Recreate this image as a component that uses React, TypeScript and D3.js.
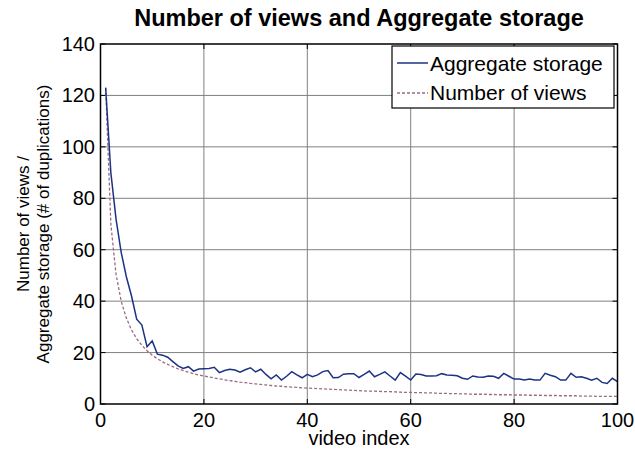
import React from "react";
import * as d3 from "d3";

const W = 635;
const H = 454;

const xTicks = [0, 20, 40, 60, 80, 100];
const yTicks = [0, 20, 40, 60, 80, 100, 120, 140];

// Aggregate storage per video (# of duplications), video index 1..100
const aggregateStorage = [
  123, 90, 72, 59, 49.5, 42, 33, 30.7, 22.3, 24.5,
  19.4, 19, 18.2, 16.5, 14.8, 13.8, 14.5, 12.8, 13.6, 13.7,
  13.8, 14.3, 12.2, 13.0, 13.5, 13.2, 12.4, 13.3, 14.1, 12.5,
  13.5, 11.5, 9.8, 11.3, 9.3, 10.8, 12.6, 11.3, 10.2, 11.5,
  10.6, 11.3, 12.6, 13.0, 10.2, 10.3, 11.6, 11.8, 11.8, 10.3,
  11.5, 12.8, 10.6, 11.5, 12.5, 10.9, 9.3, 12.2, 10.8, 9.3,
  11.7, 11.5, 10.9, 10.9, 11.0, 11.8, 11.3, 11.2, 11.0, 10.0,
  9.6, 10.9, 10.5, 10.4, 10.9, 10.8, 10.0, 11.9, 10.8, 9.7,
  9.7, 9.3, 9.7, 9.3, 9.3, 11.9, 11.2, 10.6, 9.3, 9.3,
  11.9, 10.4, 10.6, 10.0, 9.3, 10.0, 8.4, 8.0, 10.0, 8.7,
];

// Number of views per video, video index 1..100
const numberOfViews = [
  123, 70, 50.5, 40, 33.4, 28.8, 25.4, 22.8, 20.7, 19.0,
  17.6, 16.4, 15.4, 14.5, 13.7, 13.0, 12.4, 11.8, 11.3, 10.9,
  10.5, 10.1, 9.8, 9.4, 9.1, 8.8, 8.5, 8.3, 8.0, 7.8,
  7.6, 7.4, 7.2, 7.0, 6.9, 6.7, 6.6, 6.5, 6.3, 6.2,
  6.1, 6.0, 5.9, 5.8, 5.7, 5.6, 5.5, 5.4, 5.3, 5.2,
  5.1, 5.0, 5.0, 4.9, 4.8, 4.8, 4.7, 4.6, 4.5, 4.5,
  4.4, 4.4, 4.3, 4.3, 4.2, 4.1, 4.1, 4.0, 4.0, 3.9,
  3.9, 3.8, 3.8, 3.8, 3.7, 3.7, 3.6, 3.6, 3.6, 3.5,
  3.5, 3.5, 3.4, 3.4, 3.4, 3.3, 3.3, 3.3, 3.2, 3.2,
  3.2, 3.2, 3.1, 3.1, 3.1, 3.0, 3.0, 3.0, 3.0, 2.95,
];

const seriesNames = ["Aggregate storage", "Number of views"];

const FONT = "'Liberation Sans', Arial, sans-serif";
const STORAGE_COLOR = "#1c3384";
const VIEWS_COLOR = "#9a6a88";

export default function App() {
  const left = 100.5;
  const right = 617.5;
  const top = 44;
  const bottom = 404;

  const x = d3.scaleLinear().domain([0, 100]).range([left, right]);
  const y = d3.scaleLinear().domain([0, 140]).range([bottom, top]);

  const line = d3
    .line<number>()
    .x((_, i) => x(i + 1))
    .y((d) => y(d));

  const tickLen = 5;

  return (
    <svg
      width={W}
      height={H}
      style={{ position: "absolute", left: 0, top: 0, background: "#fff" }}
      fontFamily={FONT}
    >
      <rect x={0} y={0} width={W} height={H} fill="#fff" />

      {/* grid */}
      {xTicks.slice(1, -1).map((t) => (
        <line key={"gx" + t} x1={x(t)} x2={x(t)} y1={top} y2={bottom} stroke="#808080" strokeWidth={1} />
      ))}
      {yTicks.slice(1, -1).map((t) => (
        <line key={"gy" + t} x1={left} x2={right} y1={y(t)} y2={y(t)} stroke="#808080" strokeWidth={1} />
      ))}

      {/* inward ticks on all four sides */}
      {xTicks.map((t) => (
        <g key={"tx" + t}>
          <line x1={x(t)} x2={x(t)} y1={bottom} y2={bottom - tickLen} stroke="#000" />
          <line x1={x(t)} x2={x(t)} y1={top} y2={top + tickLen} stroke="#000" />
        </g>
      ))}
      {yTicks.map((t) => (
        <g key={"ty" + t}>
          <line x1={left} x2={left + tickLen} y1={y(t)} y2={y(t)} stroke="#000" />
          <line x1={right} x2={right - tickLen} y1={y(t)} y2={y(t)} stroke="#000" />
        </g>
      ))}

      {/* series */}
      <path d={line(numberOfViews) || ""} fill="none" stroke={VIEWS_COLOR} strokeWidth={1.3} strokeDasharray="3,2" />
      <path d={line(aggregateStorage) || ""} fill="none" stroke={STORAGE_COLOR} strokeWidth={1.5} />

      {/* axes box */}
      <rect x={left} y={top} width={right - left} height={bottom - top} fill="none" stroke="#000" strokeWidth={1.5} />

      {/* tick labels */}
      {xTicks.map((t) => (
        <text key={"lx" + t} x={x(t)} y={427} textAnchor="middle" fontSize={20} fill="#000">
          {t}
        </text>
      ))}
      {yTicks.map((t) => (
        <text key={"ly" + t} x={95} y={y(t) + 7} textAnchor="end" fontSize={20} fill="#000">
          {t}
        </text>
      ))}

      {/* title and axis labels */}
      <text x={(left + right) / 2} y={26} textAnchor="middle" fontSize={23.5} fontWeight="bold" fill="#000">
        Number of views and Aggregate storage
      </text>
      <text x={(left + right) / 2} y={445} textAnchor="middle" fontSize={20} fill="#000">
        video index
      </text>
      <g transform={`translate(29,${(top + bottom) / 2}) rotate(-90)`}>
        <text x={0} y={0} textAnchor="middle" fontSize={17} fill="#000">
          Number of views /
        </text>
        <text x={0} y={20} textAnchor="middle" fontSize={17} fill="#000">
          Aggregate storage (# of duplications)
        </text>
      </g>

      {/* legend */}
      <g>
        <rect x={392} y={46} width={222} height={62} fill="#fff" stroke="#000" strokeWidth={1.2} />
        <line x1={397} x2={428} y1={63} y2={63} stroke={STORAGE_COLOR} strokeWidth={1.5} />
        <text x={430} y={70.5} fontSize={21} fill="#000">
          {seriesNames[0]}
        </text>
        <line x1={397} x2={428} y1={93} y2={93} stroke={VIEWS_COLOR} strokeWidth={1.3} strokeDasharray="3,2" />
        <text x={430} y={100} fontSize={21} fill="#000">
          {seriesNames[1]}
        </text>
      </g>
    </svg>
  );
}
